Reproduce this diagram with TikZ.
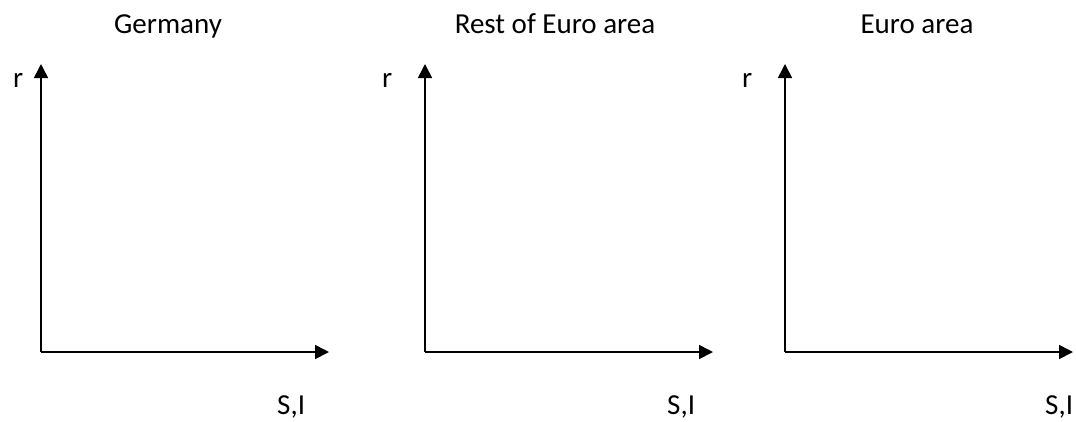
\documentclass[tikz,border=0pt]{standalone}
\usepackage{fontspec}
\setmainfont{Carlito}
\usetikzlibrary{arrows.meta}
\begin{document}
\begin{tikzpicture}[x=1pt,y=-1pt,
  axis/.style={line width=1.6pt,-{Triangle[length=14pt,width=14pt]}},
  lbl/.style={font=\fontsize{29}{35}\selectfont,inner sep=0pt,anchor=base},
  lblw/.style={lbl,anchor=base west}]
\useasboundingbox (0,0) rectangle (1076,421);
% panel 1
\coordinate (o1) at (41,352);
\coordinate (y1) at (41,64);
\coordinate (x1) at (329,352);
\draw[axis] (o1) -- (y1);
\draw[axis] (o1) -- (x1);
\node[lbl] (t1) at (168,33) {Germany};
\node[lblw] (r1) at (13,87) {r};
\node[lblw] (s1) at (277,414) {S,I};
% panel 2
\coordinate (o2) at (425,352);
\coordinate (y2) at (425,64);
\coordinate (x2) at (713,352);
\draw[axis] (o2) -- (y2);
\draw[axis] (o2) -- (x2);
\node[lbl] (t2) at (555,33) {Rest of Euro area};
\node[lblw] (r2) at (382,87) {r};
\node[lblw] (s2) at (667,414) {S,I};
% panel 3
\coordinate (o3) at (785,352);
\coordinate (y3) at (785,64);
\coordinate (x3) at (1073,352);
\draw[axis] (o3) -- (y3);
\draw[axis] (o3) -- (x3);
\node[lbl] (t3) at (917,33) {Euro area};
\node[lblw] (r3) at (742,87) {r};
\node[lblw] (s3) at (1045,414) {S,I};
\end{tikzpicture}
\end{document}
